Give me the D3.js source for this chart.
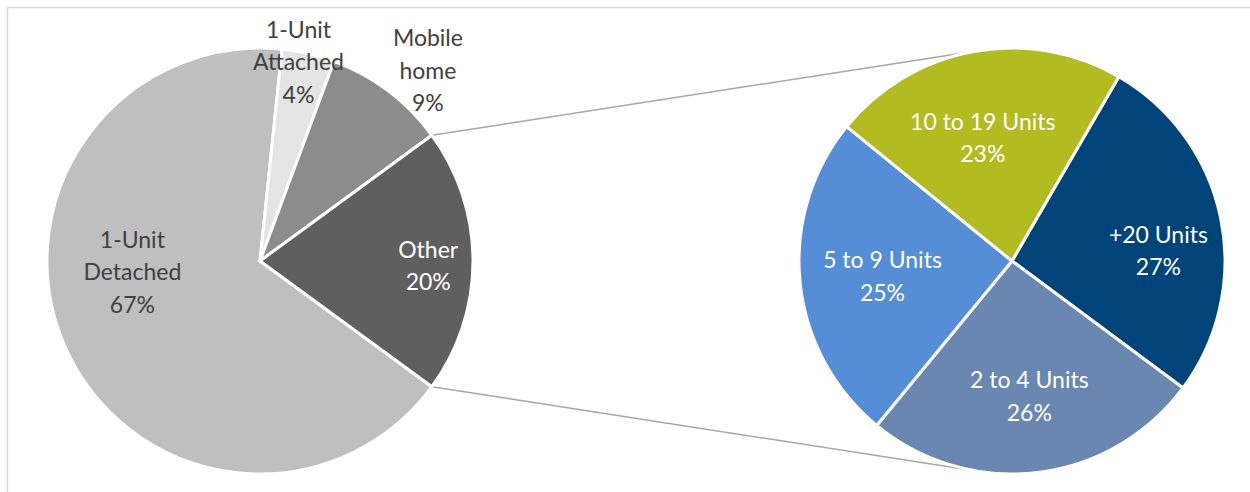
<!DOCTYPE html>
<html>
<head>
<meta charset="utf-8">
<script src="https://cdn.jsdelivr.net/npm/d3@7"></script>
<style>
  body { margin: 0; background: #fff; }
  svg { display: block; font-family: Lato, "Open Sans", sans-serif; }
</style>
</head>
<body>
<svg id="chart"></svg>
<script>
const width = 1250;
const height = 492;

// main pie (share of housing type), clockwise from the lower edge of "Other"
const mainLabels = [["1-Unit", "Detached"], ["1-Unit", "Attached"], ["Mobile", "home"], ["Other"]];
const mainValues = [66.6, 4.0, 9.3, 20.1];
const mainColors = ["#bfbfbf", "#e4e4e4", "#8c8c8c", "#5f5f5f"];
const mainText = ["#404040", "#404040", "#404040", "#ffffff"];

// second pie (breakdown of "Other")
const subLabels = [["+20 Units"], ["2 to 4 Units"], ["5 to 9 Units"], ["10 to 19 Units"]];
const subValues = [26.8, 25.8, 24.9, 22.5];
const subColors = ["#00447a", "#6a87b2", "#558ed6", "#b2bb1f"];

// label nudges from the centroid of the label arc
const mainNudge = [[-5, -44], [8, -69], [87, -84], [34, 4]];
const subNudge = [[15, 16], [1, 1.5], [4, 1], [-5, 8]];

const svg = d3.select("#chart").attr("width", width).attr("height", height);

// chart frame (top and left edges visible)
svg.append("line").attr("x1", 7.5).attr("x2", width).attr("y1", 7.5).attr("y2", 7.5)
  .attr("stroke", "#d9d9d9").attr("stroke-width", 1.5);
svg.append("line").attr("x1", 7.5).attr("x2", 7.5).attr("y1", 7.5).attr("y2", height)
  .attr("stroke", "#d9d9d9").attr("stroke-width", 1.5);

const r = 213;
const c1 = [260, 261];
const c2 = [1012, 261];
const lh = 32.5;

// "Other" slice centered on the right (90deg in d3 angles)
const otherShare = mainValues[3] / d3.sum(mainValues) * 2 * Math.PI;
const mainStart = Math.PI / 2 + otherShare / 2;
const mainPie = d3.pie().sort(null)
  .startAngle(mainStart).endAngle(mainStart + 2 * Math.PI);
const mainArcs = mainPie(mainValues);

const subStart = 30.1 * Math.PI / 180;
const subPie = d3.pie().sort(null).startAngle(subStart).endAngle(subStart + 2 * Math.PI);
const subArcs = subPie(subValues);

const arc = d3.arc().innerRadius(0).outerRadius(r);
const labelArc = d3.arc().innerRadius(r * 0.63).outerRadius(r * 0.63);

// connector lines from the edges of "Other" to tangents of the second pie
const otherArc = mainArcs[3];
function pt(c, a) { return [c[0] + r * Math.sin(a), c[1] - r * Math.cos(a)]; }
function tangent(p, upper) {
  const dx = p[0] - c2[0], dy = p[1] - c2[1];
  const d = Math.hypot(dx, dy);
  const base = Math.atan2(dy, dx);
  const t = Math.acos(r / d);
  const a = upper ? base + t : base - t;
  return [c2[0] + r * Math.cos(a), c2[1] + r * Math.sin(a)];
}
const pTop = pt(c1, otherArc.startAngle);
const pBot = pt(c1, otherArc.endAngle);
[[pTop, true], [pBot, false]].forEach(([p, up]) => {
  const q = tangent(p, up);
  svg.append("line")
    .attr("x1", p[0]).attr("y1", p[1]).attr("x2", q[0]).attr("y2", q[1])
    .attr("stroke", "#a6a6a6").attr("stroke-width", 1.5);
});

function drawPie(arcs, center, colors, labels, textColors, nudge) {
  const g = svg.append("g").attr("transform", `translate(${center[0]},${center[1]})`);
  g.selectAll("path").data(arcs).enter().append("path")
    .attr("d", arc)
    .attr("fill", (d, i) => colors[i])
    .attr("stroke", "#fff")
    .attr("stroke-width", 3)
    .attr("stroke-linejoin", "round");

  const total = d3.sum(arcs, d => d.value);
  const lab = g.selectAll("text").data(arcs).enter().append("text")
    .attr("text-anchor", "middle")
    .attr("font-size", 23)
    .attr("fill", (d, i) => textColors[i]);
  lab.each(function (d, i) {
    const [x, y] = labelArc.centroid(d);
    const lines = labels[i].concat([Math.round(d.value / total * 100) + "%"]);
    const x0 = x + nudge[i][0], y0 = y + nudge[i][1];
    const n = lines.length;
    d3.select(this).selectAll("tspan").data(lines).enter().append("tspan")
      .attr("x", x0)
      .attr("y", (t, k) => y0 + (k - (n - 1) / 2) * lh)
      .attr("dominant-baseline", "central")
      .text(t => t);
  });
}

drawPie(mainArcs, c1, mainColors, mainLabels, mainText, mainNudge);
drawPie(subArcs, c2, subColors, subLabels, ["#fff", "#fff", "#fff", "#fff"], subNudge);
</script>
</body>
</html>
